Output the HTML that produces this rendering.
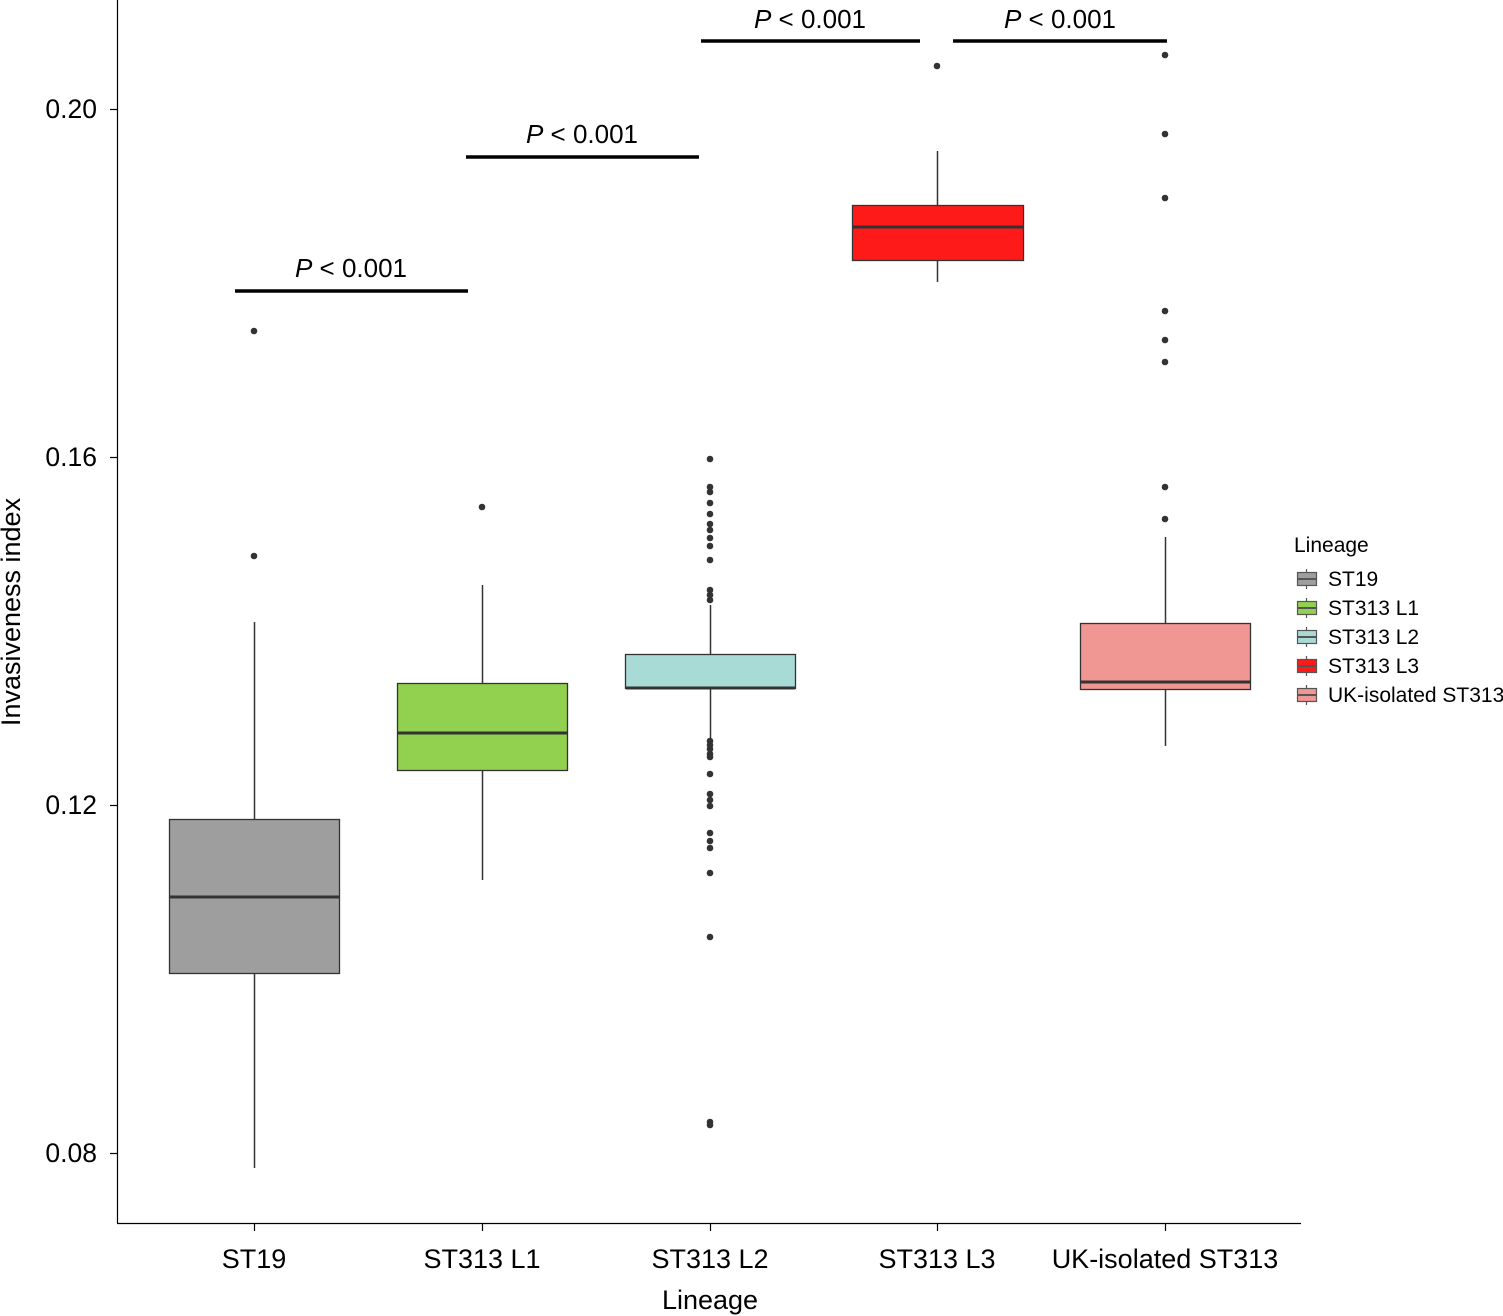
<!DOCTYPE html>
<html><head><style>body{margin:0;background:#fff}svg{display:block}text{font-family:"Liberation Sans",Arial,sans-serif;fill:#000}</style></head>
<body>
<svg width="1503" height="1316" viewBox="0 0 1503 1316" xmlns="http://www.w3.org/2000/svg">
<g stroke="#000" stroke-width="1.2">
<line x1="117.5" y1="0" x2="117.5" y2="1223"/>
<line x1="117" y1="1223.5" x2="1301" y2="1223.5"/>
<line x1="110" y1="109.5" x2="117" y2="109.5"/>
<line x1="110" y1="457.5" x2="117" y2="457.5"/>
<line x1="110" y1="805.5" x2="117" y2="805.5"/>
<line x1="110" y1="1153.5" x2="117" y2="1153.5"/>
<line x1="254.5" y1="1223" x2="254.5" y2="1231"/>
<line x1="482.5" y1="1223" x2="482.5" y2="1231"/>
<line x1="710.5" y1="1223" x2="710.5" y2="1231"/>
<line x1="937.5" y1="1223" x2="937.5" y2="1231"/>
<line x1="1165.5" y1="1223" x2="1165.5" y2="1231"/>
</g>
<g font-size="26.5" text-anchor="end">
<text x="97" y="118">0.20</text><text x="97" y="466">0.16</text><text x="97" y="814">0.12</text><text x="97" y="1162">0.08</text>
</g>
<g font-size="27" text-anchor="middle">
<text x="254" y="1268">ST19</text><text x="482" y="1268">ST313 L1</text><text x="710" y="1268">ST313 L2</text><text x="937" y="1268">ST313 L3</text><text x="1165" y="1268">UK-isolated ST313</text>
<text x="710" y="1309">Lineage</text>
<text transform="translate(20,612) rotate(-90)">Invasiveness index</text>
</g>
<g stroke="#333" stroke-width="1.5">
<line x1="254.5" y1="622" x2="254.5" y2="1168"/>
<line x1="482.5" y1="585" x2="482.5" y2="880"/>
<line x1="710.5" y1="605" x2="710.5" y2="738"/>
<line x1="937.5" y1="151" x2="937.5" y2="282"/>
<line x1="1165.5" y1="537" x2="1165.5" y2="746"/>
</g>
<g stroke="#333" stroke-width="1.3">
<rect x="169.5" y="819.5" width="170" height="154" fill="#9e9e9e"/>
<rect x="397.5" y="683.5" width="170" height="87" fill="#92d14f"/>
<rect x="625.5" y="654.5" width="170" height="34" fill="#a8dad6"/>
<rect x="852.5" y="205.5" width="171" height="55" fill="#ff1a1a"/>
<rect x="1080.5" y="623.5" width="170" height="66" fill="#f09693"/>
</g>
<g stroke="#333" stroke-width="3">
<line x1="170" y1="897" x2="339" y2="897"/>
<line x1="398" y1="733" x2="567" y2="733"/>
<line x1="626" y1="688" x2="795" y2="688"/>
<line x1="853" y1="227" x2="1023" y2="227"/>
<line x1="1081" y1="682" x2="1250" y2="682"/>
</g>
<g fill="#333">
<circle cx="254" cy="331" r="3.3"/><circle cx="254" cy="556" r="3.3"/>
<circle cx="482" cy="507" r="3.3"/>
<circle cx="937" cy="66" r="3.3"/>
<circle cx="1165" cy="55" r="3.3"/><circle cx="1165" cy="134" r="3.3"/><circle cx="1165" cy="198" r="3.3"/><circle cx="1165" cy="311" r="3.3"/><circle cx="1165" cy="340" r="3.3"/><circle cx="1165" cy="362" r="3.3"/><circle cx="1165" cy="487" r="3.3"/><circle cx="1165" cy="519" r="3.3"/>
<g transform="translate(710,0)">
<circle cy="459" r="3.3"/><circle cy="487" r="3.3"/><circle cy="492" r="3.3"/><circle cy="503" r="3.3"/><circle cy="514" r="3.3"/><circle cy="524" r="3.3"/><circle cy="530" r="3.3"/><circle cy="538" r="3.3"/><circle cy="546" r="3.3"/><circle cy="560" r="3.3"/><circle cy="590" r="3.3"/><circle cy="595" r="3.3"/><circle cy="600" r="3.3"/>
<circle cy="741" r="3.3"/><circle cy="745" r="3.3"/><circle cy="749" r="3.3"/><circle cy="754" r="3.3"/><circle cy="757" r="3.3"/><circle cy="774" r="3.3"/><circle cy="794" r="3.3"/><circle cy="800" r="3.3"/><circle cy="806" r="3.3"/><circle cy="833" r="3.3"/><circle cy="841" r="3.3"/><circle cy="848" r="3.3"/><circle cy="873" r="3.3"/><circle cy="937" r="3.3"/><circle cy="1122" r="3.3"/><circle cy="1125" r="3.3"/>
</g>
</g>
<g stroke="#000" stroke-width="3.5">
<line x1="235" y1="291" x2="468" y2="291"/>
<line x1="466" y1="157" x2="699" y2="157"/>
<line x1="701" y1="41" x2="920" y2="41"/>
<line x1="953" y1="41" x2="1167" y2="41"/>
</g>
<g font-size="26" text-anchor="middle">
<text x="351" y="277"><tspan font-style="italic">P</tspan> &lt; 0.001</text>
<text x="582" y="143"><tspan font-style="italic">P</tspan> &lt; 0.001</text>
<text x="810" y="28"><tspan font-style="italic">P</tspan> &lt; 0.001</text>
<text x="1060" y="28"><tspan font-style="italic">P</tspan> &lt; 0.001</text>
</g>
<text x="1294" y="552" font-size="21">Lineage</text>
<g font-size="21" stroke="#555" stroke-width="1.2">
<g transform="translate(0,579)"><line x1="1306.5" y1="-10" x2="1306.5" y2="10"/><rect x="1297.5" y="-6.5" width="19" height="13" fill="#9e9e9e"/><line x1="1297" y1="0" x2="1316" y2="0" stroke-width="2"/><text x="1328" y="7" stroke="none">ST19</text></g>
<g transform="translate(0,608)"><line x1="1306.5" y1="-10" x2="1306.5" y2="10"/><rect x="1297.5" y="-6.5" width="19" height="13" fill="#92d14f"/><line x1="1297" y1="0" x2="1316" y2="0" stroke-width="2"/><text x="1328" y="7" stroke="none">ST313 L1</text></g>
<g transform="translate(0,637)"><line x1="1306.5" y1="-10" x2="1306.5" y2="10"/><rect x="1297.5" y="-6.5" width="19" height="13" fill="#a8dad6"/><line x1="1297" y1="0" x2="1316" y2="0" stroke-width="2"/><text x="1328" y="7" stroke="none">ST313 L2</text></g>
<g transform="translate(0,666)"><line x1="1306.5" y1="-10" x2="1306.5" y2="10"/><rect x="1297.5" y="-6.5" width="19" height="13" fill="#ff1a1a"/><line x1="1297" y1="0" x2="1316" y2="0" stroke-width="2"/><text x="1328" y="7" stroke="none">ST313 L3</text></g>
<g transform="translate(0,695)"><line x1="1306.5" y1="-10" x2="1306.5" y2="10"/><rect x="1297.5" y="-6.5" width="19" height="13" fill="#f09693"/><line x1="1297" y1="0" x2="1316" y2="0" stroke-width="2"/><text x="1328" y="7" stroke="none">UK-isolated ST313</text></g>
</g>
</svg>
</body></html>
